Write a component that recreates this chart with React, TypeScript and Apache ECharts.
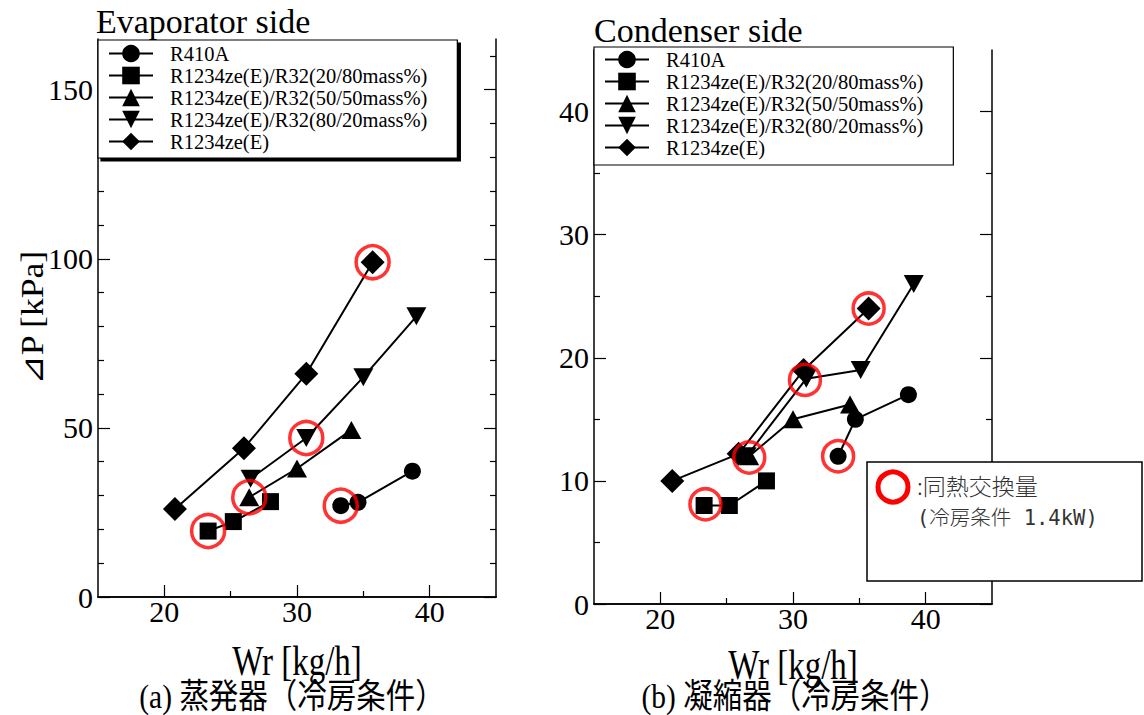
import React, { useEffect, useRef } from "react";
import * as echarts from "echarts";

// ---- Data ----
const seriesNames = [
  "R410A",
  "R1234ze(E)/R32(20/80mass%)",
  "R1234ze(E)/R32(50/50mass%)",
  "R1234ze(E)/R32(80/20mass%)",
  "R1234ze(E)",
];

// Evaporator side: Wr [kg/h] vs ⊿P [kPa]
const evapR410AX = [33.3, 34.6, 38.7];
const evapR410AY = [27, 28, 37.2];
const evap2080X = [23.3, 25.2, 28.0];
const evap2080Y = [19.5, 22.3, 28.2];
const evap5050X = [26.4, 30.0, 34.1];
const evap5050Y = [29.5, 38, 49.4];
const evap8020X = [26.5, 30.7, 35.0, 39.0];
const evap8020Y = [35, 47, 65, 83];
const evapZeX = [20.8, 26.0, 30.7, 35.7];
const evapZeY = [26, 44, 66, 99];
const evapSameX = [35.7, 30.7, 26.4, 23.3, 33.3];
const evapSameY = [99, 47, 29.5, 19.5, 27];

// Condenser side
const condR410AX = [33.4, 34.7, 38.7];
const condR410AY = [12, 15, 17];
const cond2080X = [23.3, 25.2, 28.0];
const cond2080Y = [8, 8, 10];
const cond5050X = [26.7, 30.0, 34.3];
const cond5050Y = [12, 15, 16.2];
const cond8020X = [26.5, 31.0, 35.1, 39.1];
const cond8020Y = [12, 18.3, 19, 26];
const condZeX = [20.9, 25.9, 30.8, 35.7];
const condZeY = [10, 12.2, 19, 24];
const condSameX = [35.7, 30.9, 26.7, 33.4, 23.4];
const condSameY = [24, 18.2, 11.9, 12, 8.1];

// Ticks
const xMajorTicks = [20, 30, 40];
const xMinorTicks = [25, 35];
const evapYMajor = [0, 50, 100, 150];
const evapYMinor = [10, 20, 30, 40, 60, 70, 80, 90, 110, 120, 130, 140, 160];
const condYMajor = [0, 10, 20, 30, 40];
const condYMinor = [5, 15, 25, 35];

const zip = (xs: number[], ys: number[]) => xs.map((x, i) => [x, ys[i]]);

const SERIF = "Liberation Serif";
const CJK = "Noto Sans CJK JP";
const downTri = "path://M0,0L20,0L10,17Z";
const symbols: any[] = ["circle", "rect", "triangle", downTri, "diamond"];
const sizes: any[] = [17, 17, [20, 18], [20, 18], 24];

export default function App() {
  const ref = useRef<HTMLDivElement>(null);

  useEffect(() => {
    document.body.style.margin = "0";
    const chart = echarts.init(ref.current!, null, { renderer: "svg" });

    const grids = [
      { left: 98, top: 39, width: 398, height: 558 },
      { left: 594, top: 50, width: 398, height: 554 },
    ];

    const xAxes: any[] = [];
    const yAxes: any[] = [];
    const line = { show: true, lineStyle: { color: "#000", width: 1.5 } };
    const tickStyle = { color: "#000", width: 1.2 };
    [0, 1].forEach((g) => {
      xAxes.push({
        type: "value", gridIndex: g, position: "bottom", min: 15, max: 45, interval: 5,
        axisLine: line,
        axisTick: { show: true, inside: true, length: 12, customValues: xMajorTicks, lineStyle: tickStyle },
        axisLabel: {
          show: true, fontSize: 30, fontFamily: SERIF, color: "#000", margin: -1,
          formatter: (v: number) => (xMajorTicks.includes(v) ? String(v) : ""),
        },
        splitLine: { show: false },
      });
      xAxes.push({
        type: "value", gridIndex: g, position: "bottom", min: 15, max: 45,
        axisLine: { show: false },
        axisTick: { show: true, inside: true, length: 6, customValues: xMinorTicks, lineStyle: tickStyle },
        axisLabel: { show: false },
        splitLine: { show: false },
      });
      xAxes.push({
        type: "value", gridIndex: g, position: "top", min: 15, max: 45,
        axisLine: line, axisTick: { show: false }, axisLabel: { show: false }, splitLine: { show: false },
      });
      const yMax = g === 0 ? 165 : 45;
      const yInt = g === 0 ? 50 : 10;
      const major = g === 0 ? evapYMajor : condYMajor;
      const minor = g === 0 ? evapYMinor : condYMinor;
      ["left", "right"].forEach((pos) => {
        yAxes.push({
          type: "value", gridIndex: g, position: pos, min: 0, max: yMax, interval: yInt,
          axisLine: line,
          axisTick: { show: true, inside: true, length: 12, customValues: major, lineStyle: tickStyle },
          axisLabel: pos === "left"
            ? {
                show: true, fontSize: 30, fontFamily: SERIF, color: "#000", margin: 5,
                formatter: (v: number) => (major.includes(v) ? String(v) : ""),
              }
            : { show: false },
          splitLine: { show: false },
        });
        yAxes.push({
          type: "value", gridIndex: g, position: pos, min: 0, max: yMax,
          axisLine: { show: false },
          axisTick: { show: true, inside: true, length: 6, customValues: minor, lineStyle: tickStyle },
          axisLabel: { show: false },
          splitLine: { show: false },
        });
      });
    });

    const evapSets = [
      [evapR410AX, evapR410AY], [evap2080X, evap2080Y], [evap5050X, evap5050Y],
      [evap8020X, evap8020Y], [evapZeX, evapZeY],
    ];
    const condSets = [
      [condR410AX, condR410AY], [cond2080X, cond2080Y], [cond5050X, cond5050Y],
      [cond8020X, cond8020Y], [condZeX, condZeY],
    ];

    const series: any[] = [];
    [evapSets, condSets].forEach((sets, g) => {
      sets.forEach((s, i) => {
        series.push({
          type: "line", name: seriesNames[i],
          xAxisIndex: g * 3, yAxisIndex: g * 4,
          data: zip(s[0], s[1]),
          symbol: symbols[i], symbolSize: sizes[i],
          showSymbol: true,
          itemStyle: { color: "#000" },
          lineStyle: { color: "#000", width: 2 },
          z: 3,
        });
      });
      series.push({
        type: "scatter", name: "同熱交換量",
        xAxisIndex: g * 3, yAxisIndex: g * 4,
        data: g === 0 ? zip(evapSameX, evapSameY) : zip(condSameX, condSameY),
        symbol: "circle", symbolSize: g === 0 ? 33 : 31,
        itemStyle: { color: "rgba(0,0,0,0)", borderColor: "#f00", borderWidth: 3.5 },
        z: 5,
      });
    });

    const legendBase = {
      orient: "vertical",
      data: seriesNames,
      itemWidth: 44,
      itemHeight: 22,
      itemGap: 1,
      backgroundColor: "#fff",
      borderColor: "#000",
      borderWidth: 1.2,
      borderRadius: 0,
      textStyle: { fontFamily: SERIF, fontSize: 20.5, color: "#000", padding: [0, 0, 0, 12] },
      selectedMode: false,
      z: 10,
    };

    const option: any = {
      animation: false,
      backgroundColor: "#fff",
      textStyle: { fontFamily: SERIF },
      grid: grids,
      xAxis: xAxes,
      yAxis: yAxes,
      series,
      legend: [
        {
          ...legendBase, left: 98, top: 40, padding: [3, 30, 6, 10],
          shadowColor: "#000", shadowBlur: 0, shadowOffsetX: 3, shadowOffsetY: 3,
        },
        { ...legendBase, left: 594, top: 47, padding: [2, 30, 7, 10] },
      ],
      graphic: [
        { type: "text", x: 96, y: 21, style: { text: "Evaporator side", fontSize: 34, fontFamily: SERIF, fill: "#000", align: "left", verticalAlign: "middle" } },
        { type: "text", x: 594, y: 30, style: { text: "Condenser side", fontSize: 34, fontFamily: SERIF, fill: "#000", align: "left", verticalAlign: "middle" } },
        { type: "text", x: 32, y: 318, rotation: Math.PI / 2, scaleX: 1.15, style: { text: "⊿P [kPa]", fontSize: 31, fontFamily: SERIF, fill: "#000", align: "center", verticalAlign: "middle" } },
        { type: "text", x: 297, y: 660, scaleY: 1.3, style: { text: "Wr [kg/h]", fontSize: 33, fontFamily: SERIF, fill: "#000", align: "center", verticalAlign: "middle" } },
        { type: "text", x: 793, y: 664, scaleY: 1.3, style: { text: "Wr [kg/h]", fontSize: 33, fontFamily: SERIF, fill: "#000", align: "center", verticalAlign: "middle" } },
        { type: "text", x: 292, y: 697, scaleY: 1.15, style: { text: "(a) 蒸発器（冷房条件）", fontSize: 29.5, fontFamily: SERIF + ", " + CJK, fill: "#000", align: "center", verticalAlign: "middle" } },
        { type: "text", x: 795, y: 697, scaleY: 1.15, style: { text: "(b) 凝縮器（冷房条件）", fontSize: 29.5, fontFamily: SERIF + ", " + CJK, fill: "#000", align: "center", verticalAlign: "middle" } },
        // note box
        { type: "rect", z: 20, shape: { x: 867, y: 462, width: 275, height: 119 }, style: { fill: "#fff", stroke: "#000", lineWidth: 1.5 } },
        { type: "circle", z: 21, shape: { cx: 893, cy: 487, r: 15 }, style: { fill: "none", stroke: "#f00", lineWidth: 5 } },
        { type: "text", z: 21, x: 917, y: 485, style: { text: ":同熱交換量", fontSize: 23, fontFamily: CJK, fontWeight: 300, fill: "#333", align: "left", verticalAlign: "middle" } },
        { type: "text", z: 21, x: 917, y: 518, style: { text: "(冷房条件 1.4kW)", fontSize: 20.5, fontFamily: "DejaVu Sans Mono, " + CJK, fontWeight: 300, fill: "#333", align: "left", verticalAlign: "middle" } },
      ],
    };

    chart.setOption(option);
    return () => chart.dispose();
  }, []);

  return <div ref={ref} style={{ width: 1144, height: 715 }} />;
}
